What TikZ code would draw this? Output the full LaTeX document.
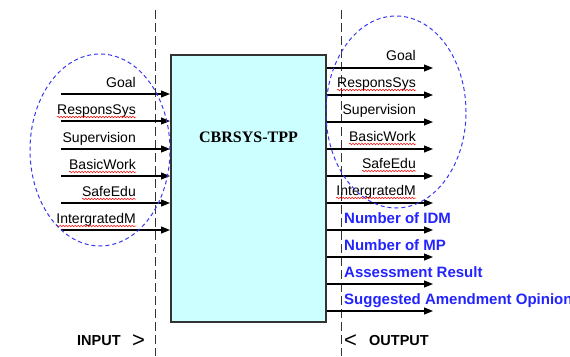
\documentclass[tikz,border=0pt]{standalone}
\usepackage{fontspec}
\setmainfont{Liberation Sans}
\newfontfamily\serifb{Liberation Serif}
\usetikzlibrary{arrows.meta,decorations.pathmorphing,shapes.geometric}
\definecolor{boxfill}{HTML}{CCFFFF}
\definecolor{ellblue}{HTML}{3838F0}
\definecolor{txtblue}{HTML}{2323FF}
\begin{document}
\begin{tikzpicture}[x=1pt,y=-1pt,
  lbl/.style={font=\fontsize{14}{16}\selectfont, inner sep=0pt, anchor=base east},
  blbl/.style={font=\fontsize{15}{17}\selectfont\bfseries, text=txtblue, inner sep=0pt, anchor=base west},
  flow/.style={line width=1.1pt, -{Triangle[length=9pt,width=7pt]}},
  sepline/.style={line width=0.8pt, black!80, dash pattern=on 9pt off 4pt},
  grp/.style={draw=ellblue, line width=1pt, dash pattern=on 4pt off 3pt, ellipse, inner sep=0pt, minimum width=140pt, minimum height=192pt},
  squig/.style={draw=red, line width=0.5pt, decorate, decoration={snake, amplitude=0.8pt, segment length=3pt}},
  io/.style={font=\fontsize{14.5}{17}\selectfont\bfseries, inner sep=0pt, anchor=base west},
  chev/.style={font=\fontsize{22}{24}\selectfont, inner sep=0pt, anchor=base west}
]
\useasboundingbox (0,0) rectangle (570,356);
% separators
\coordinate (sepLt) at (155,10);
\coordinate (sepLb) at (155,356);
\coordinate (sepRt) at (341,10);
\coordinate (sepRb) at (341,356);
\draw[sepline] (sepLt) -- (sepLb);
\draw[sepline] (sepRt) -- (sepRb);
% main box
\node[draw=black!80, line width=2pt, fill=boxfill, minimum width=155pt, minimum height=267pt, inner sep=0pt] (sys) at (248.5,188.5) {};
\node[font=\serifb\fontsize{16}{18}\selectfont\bfseries, inner sep=0pt] (title) at (248.5,137) {CBRSYS-TPP};
% inputs
\foreach \y/\t/\n in {94/Goal/1,121/ResponsSys/2,149/Supervision/3,176/BasicWork/4,203/SafeEdu/5,230/IntergratedM/6}{
  \coordinate (in\n) at (61,\y);
  \draw[flow] (in\n) -- (in\n -| sys.west);
  \node[lbl] (inl\n) at (136,\y-7) {\t};
}
\foreach \n in {2,4,5,6}{
  \draw[squig] ([yshift=-3pt]inl\n.base west) -- ([yshift=-3pt]inl\n.base east);
}
% outputs
\foreach \y/\n in {68/1,95/2,122/3,149/4,176/5,203/6,230/7,257/8,284/9,311/10}{
  \coordinate (out\n) at (433,\y);
  \draw[flow] (out\n -| sys.east) -- (out\n);
}
\foreach \y/\t/\n in {68/Goal/1,95/ResponsSys/2,122/Supervision/3,149/BasicWork/4,176/SafeEdu/5,203/IntergratedM/6}{
  \node[lbl] (outl\n) at (416,\y-8) {\t};
}
\foreach \n in {2,4,5,6}{
  \draw[squig] ([yshift=-3pt]outl\n.base west) -- ([yshift=-3pt]outl\n.base east);
}
\node[blbl] (outl7) at (344,223) {Number of IDM};
\node[blbl] (outl8) at (344,250) {Number of MP};
\node[blbl] (outl9) at (344,277) {Assessment Result};
\node[blbl] (outl10) at (344,304) {Suggested Amendment Opinion};
% groups
\node[grp] (ingrp) at (100,150) {};
\node[grp] (outgrp) at (396,112) {};
% io labels
\node[io] (inputlbl) at (77,345) {INPUT};
\node[chev] (inchev) at (132,347) {>};
\node[chev] (outchev) at (344,347) {<};
\node[io] (outputlbl) at (369,345) {OUTPUT};
\end{tikzpicture}
\end{document}
